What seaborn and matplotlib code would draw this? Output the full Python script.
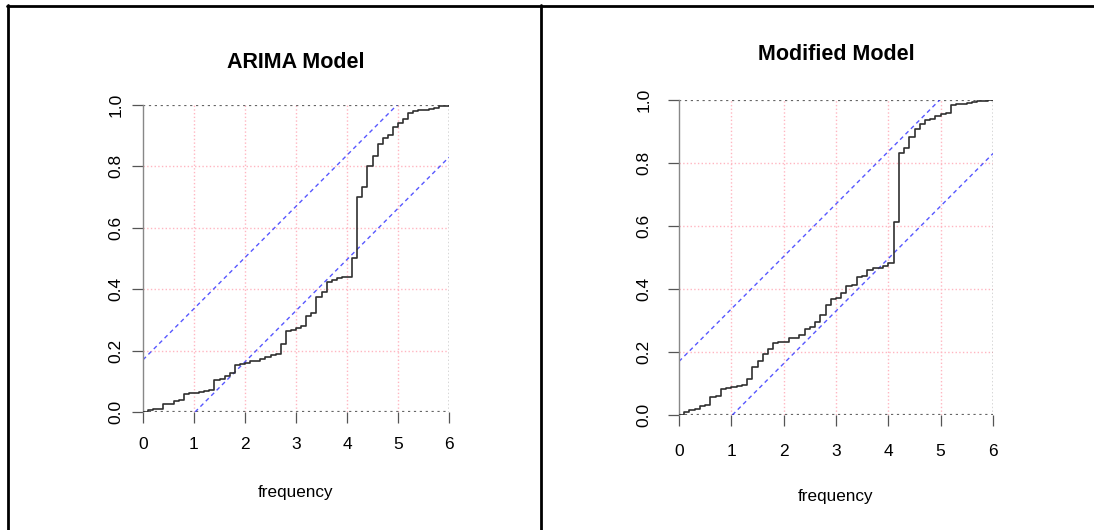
import numpy as np
import pandas as pd
import matplotlib
matplotlib.use("Agg")
import matplotlib.pyplot as plt
from matplotlib.lines import Line2D
import seaborn as sns

# ---- data (cumulative periodogram) ----
arima_cum = [0.0, 0.008, 0.009, 0.010, 0.025, 0.026, 0.036, 0.040, 0.060, 0.061,
             0.063, 0.065, 0.068, 0.071, 0.105, 0.108, 0.118, 0.128, 0.152, 0.156,
             0.158, 0.165, 0.166, 0.172, 0.180, 0.186, 0.190, 0.220, 0.264, 0.268,
             0.272, 0.280, 0.313, 0.322, 0.373, 0.392, 0.424, 0.430, 0.435, 0.440,
             0.441, 0.503, 0.700, 0.732, 0.800, 0.833, 0.872, 0.893, 0.902, 0.928,
             0.942, 0.953, 0.975, 0.982, 0.984, 0.985, 0.987, 0.990, 0.996, 0.998,
             1.0]
modified_cum = [0.0, 0.011, 0.016, 0.018, 0.030, 0.033, 0.058, 0.060, 0.081, 0.086,
                0.089, 0.091, 0.094, 0.113, 0.153, 0.170, 0.193, 0.208, 0.228, 0.232,
                0.233, 0.243, 0.245, 0.255, 0.273, 0.278, 0.294, 0.316, 0.350, 0.367,
                0.371, 0.388, 0.411, 0.412, 0.438, 0.442, 0.461, 0.466, 0.468, 0.473,
                0.481, 0.614, 0.831, 0.847, 0.884, 0.908, 0.925, 0.937, 0.940, 0.950,
                0.955, 0.960, 0.983, 0.986, 0.988, 0.991, 0.993, 0.997, 0.998, 0.999,
                1.0]
max_freq = 6.0
crit = 0.17
titles = ["ARIMA Model", "Modified Model"]
x_ticks = [0, 1, 2, 3, 4, 5, 6]
y_ticks = [0.0, 0.2, 0.4, 0.6, 0.8, 1.0]
y_ticklabels = ["0.0", "0.2", "0.4", "0.6", "0.8", "1.0"]
x_label = "frequency"

sns.set_style("white")
plt.rcParams["font.family"] = ["Liberation Sans", "DejaVu Sans"]

W, H = 1094, 530
fig = plt.figure(figsize=(W / 100, H / 100), dpi=100)
fig.patch.set_facecolor("white")

def fig_rect(x0, y0, x1, y1):
    return [x0 / W, 1 - y1 / H, (x1 - x0) / W, (y1 - y0) / H]

panels = [
    dict(rect=fig_rect(143, 105, 449, 412), data=arima_cum, title=titles[0],
         title_y=62, xlab_y=492, ypad=6, xpad=10),
    dict(rect=fig_rect(679, 100, 993, 415), data=modified_cum, title=titles[1],
         title_y=55, xlab_y=496, ypad=12, xpad=13),
]

for p in panels:
    ax = fig.add_axes(p["rect"])
    y = np.asarray(p["data"])
    df = pd.DataFrame({"freq": np.linspace(0, max_freq, len(y)), "cum": y})
    # grid
    for gx in x_ticks[1:-1]:
        ax.axvline(gx, color="#ffb6c1", ls=":", lw=1.0, zorder=0)
    for gy in y_ticks[1:-1]:
        ax.axhline(gy, color="#ffb6c1", ls=":", lw=1.0, zorder=0)
    # frame lines at 0 and 1 and at max freq
    ax.axhline(0, color="#666666", ls=":", lw=1.6, zorder=1)
    ax.axhline(1, color="#666666", ls=":", lw=1.6, zorder=1)
    ax.axvline(max_freq, color="#333333", ls=":", lw=1.0, zorder=1)
    # confidence bands
    ax.plot([0, max_freq * (1 - crit)], [crit, 1], color="#3a3aff", ls=(0, (3, 2.5)),
            lw=1.0, alpha=0.85, zorder=2)
    ax.plot([max_freq * crit, max_freq], [0, 1 - crit], color="#3a3aff", ls=(0, (3, 2.5)),
            lw=1.0, alpha=0.85, zorder=2)
    # cumulative periodogram
    sns.lineplot(data=df, x="freq", y="cum", drawstyle="steps-post", color="#303030",
                 lw=1.2, ax=ax, zorder=3)
    ax.set_xlim(0, max_freq)
    ax.set_ylim(0, 1)
    ax.set_xticks(x_ticks)
    ax.set_xticklabels([str(t) for t in x_ticks])
    ax.set_yticks(y_ticks)
    ax.set_yticklabels(y_ticklabels, rotation=90, va="center")
    ax.set_xlabel("")
    ax.set_ylabel("")
    for s in ["top", "right", "bottom"]:
        ax.spines[s].set_visible(False)
    ax.spines["left"].set_color("#888888")
    ax.spines["left"].set_linewidth(1.0)
    ax.tick_params(axis="x", direction="out", length=8, width=0.9, color="#555555",
                   labelsize=12.5, labelcolor="black", pad=p["xpad"], bottom=True)
    ax.tick_params(axis="y", direction="out", length=8, width=0.9, color="#555555",
                   labelsize=12.5, labelcolor="black", pad=p["ypad"], left=True)
    ax.set_facecolor("white")
    ax.patch.set_alpha(0)
    cx = (p["rect"][0] + p["rect"][2] / 2)
    fig.text(cx, 1 - p["title_y"] / H, p["title"], ha="center", va="center",
             fontsize=15.5, fontweight="bold", color="black")
    fig.text(cx, 1 - p["xlab_y"] / H, x_label, ha="center", va="center",
             fontsize=12.3, color="black")

# outer table-like frame
lw = 2.0
fig.add_artist(Line2D([7 / W, 1.0], [1 - 5.5 / H, 1 - 5.5 / H], color="black", lw=lw))
fig.add_artist(Line2D([8 / W, 8 / W], [0, 1 - 4.5 / H], color="black", lw=lw))
fig.add_artist(Line2D([541 / W, 541 / W], [0, 1 - 4.5 / H], color="black", lw=lw))

fig.savefig("out.png", dpi=100, facecolor="white")
